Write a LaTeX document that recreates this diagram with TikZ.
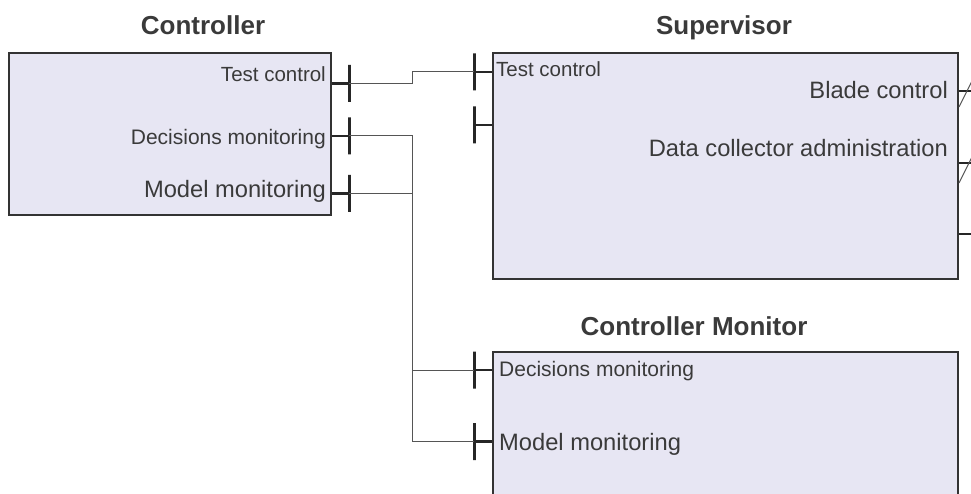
\documentclass[tikz,border=0pt]{standalone}
\usepackage{fontspec}
\setmainfont{Liberation Sans}
\usetikzlibrary{positioning}

\definecolor{blockfill}{RGB}{231,230,243}
\definecolor{blockline}{RGB}{51,51,51}
\definecolor{wiregray}{RGB}{85,85,85}
\definecolor{textgray}{RGB}{58,58,58}

\tikzset{
	block/.style = {draw=blockline, fill=blockfill, line width=2pt, inner sep=0pt, rectangle},
	title/.style = {font=\bfseries\fontsize{26}{30}\selectfont, text=textgray, inner sep=0pt, anchor=base},
	portbar/.style = {draw=black!85, line width=3pt, inner sep=0pt, minimum width=0pt, minimum height=37pt},
	stub/.style = {draw=black!85, line width=2.5pt},
	wire/.style = {draw=wiregray, line width=1pt},
	lblsmall/.style = {font=\fontsize{20.5}{24}\selectfont, text=textgray, inner sep=0pt},
	lblmid/.style = {font=\fontsize{21}{24}\selectfont, text=textgray, inner sep=0pt},
	lblbig/.style = {font=\fontsize{23.7}{27}\selectfont, text=textgray, inner sep=0pt}
}

\begin{document}
\begin{tikzpicture}[x=1pt, y=-1pt]
		
		\clip (0,0) rectangle (971,494);
		
		\node[block, minimum width=322pt, minimum height=162pt] (ctrl) at (170,134) {}; 
		
		\node[block, minimum width=465pt, minimum height=226pt] (sup) at (725.5,166) {}; 
		
		\node[block, minimum width=465pt, minimum height=170pt] (mon) at (725.5,437) {}; 
		
		\node[title] (ctrltitle) at (203,35) {Controller}; 
		
		\node[title] (suptitle) at (724,35) {Supervisor}; 
		
		\node[title] (montitle) at (694,335) {Controller Monitor}; 
		
		% controller ports
		\node[portbar] (c1) at (349,83.5) {}; 
		
		\node[portbar] (c2) at (349,136) {}; 
		
		\node[portbar] (c3) at (349,193.5) {}; 
		
		\node[lblsmall, anchor=base east] at (326,82) {Test control}; 
		
		\node[lblmid, anchor=base east] at (326,145) {Decisions monitoring}; 
		
		\node[lblbig, anchor=base east] at (326,198) {Model monitoring}; 
		
		% supervisor ports
		\node[portbar] (s1) at (474,72) {}; 
		
		\node[portbar] (s2) at (474,125) {}; 
		
		\node[lblsmall, anchor=base west] at (496,77) {Test control}; 
		
		\node[lblbig, anchor=base east] at (948,99) {Blade control}; 
		
		\node[lblbig, anchor=base east] at (948,157) {Data collector administration}; 
		
		\coordinate (o1) at (980,91); 
		
		\coordinate (o2) at (980,163); 
		
		\coordinate (o3) at (980,234); 
		
		% monitor ports
		\node[portbar] (m1) at (474,370) {}; 
		
		\node[portbar] (m2) at (474,441.5) {}; 
		
		\node[lblmid, anchor=base west] at (499,376) {Decisions monitoring}; 
		
		\node[lblbig, anchor=base west] at (499,450) {Model monitoring}; 
		
		\coordinate (jog) at (412,0); 
		
		\draw[stub] (ctrl.east |- c1) -- (c1.center)
		(ctrl.east |- c2) -- (c2.center)
		(ctrl.east |- c3) -- (c3.center)
		(s1.center) -- (sup.west |- s1)
		(s2.center) -- (sup.west |- s2)
		(m1.center) -- (mon.west |- m1)
		(m2.center) -- (mon.west |- m2)
		(sup.east |- o1) -- (o1)
		(sup.east |- o2) -- (o2)
		(sup.east |- o3) -- (o3);
		
		\draw[wire] (sup.east |- 0,107) -- ++(16,-32)
		(sup.east |- 0,183) -- ++(16,-32);
		
		\draw[wire] (c1.center) -- (jog |- c1) |- (s1.center)
		(c2.center) -| (jog |- m1) -- (m1.center)
		(c3.center) -| (jog |- m2) -- (m2.center);
		
	\end{tikzpicture}
\end{document}
